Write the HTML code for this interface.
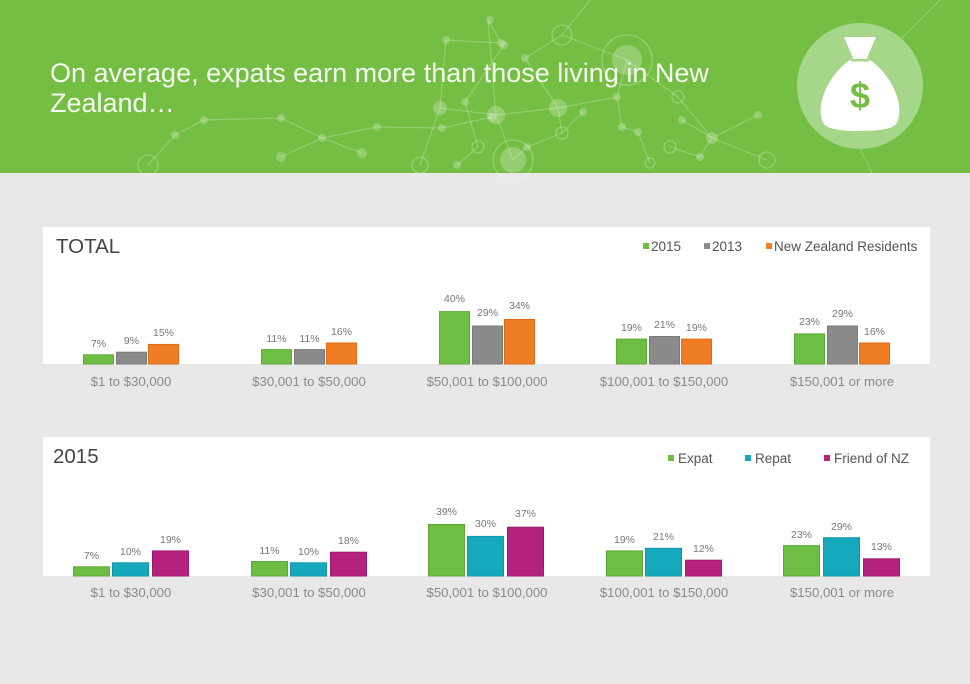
<!DOCTYPE html>
<html><head><meta charset="utf-8"><style>
html,body{margin:0;padding:0;background:#e8e8e8;}
svg{display:block;font-family:"Liberation Sans",Arial,sans-serif;}
</style></head><body>
<svg width="970" height="684" viewBox="0 0 970 684" xmlns="http://www.w3.org/2000/svg">
<rect x="0" y="0" width="970" height="684" fill="#e8e8e8"/>
<!-- header -->
<rect x="0" y="0" width="970" height="173" fill="#74be43"/>
<g stroke="#ffffff" stroke-opacity="0.24" stroke-width="1.2" fill="none">
<polyline points="590,0 562,35 627,60 678,97 712,138 767,160"/>
<polyline points="488,20 496,115 513,160 527,147 562,133 583,112"/>
<polyline points="446,40 440,108 420,165"/>
<polyline points="504,45 465,102 478,147 457,165"/>
<polyline points="525,58 562,35"/>
<polyline points="440,108 496,115 558,108 617,97 627,60"/>
<polyline points="617,97 622,127 638,132 650,163"/>
<polyline points="682,120 712,138 758,115"/>
<polyline points="670,147 700,157 712,138"/>
<polyline points="175,135 204,120 281,118 322,138 362,153"/>
<polyline points="148,165 175,135"/>
<polyline points="281,157 322,138 377,127 442,128 492,117"/>
<polyline points="445,40 501,43 488,20"/>
<polyline points="562,133 558,108 525,58"/>
<polyline points="940,0 900,40"/>
<polyline points="860,148 872,173"/>
</g>
<g fill="#ffffff" fill-opacity="0.24">
<circle cx="490" cy="20" r="4"/><circle cx="446" cy="40" r="4"/><circle cx="504" cy="45" r="4"/>
<circle cx="627" cy="60" r="15"/><circle cx="525" cy="58" r="4"/><circle cx="440" cy="108" r="7"/>
<circle cx="465" cy="102" r="4"/><circle cx="496" cy="115" r="9"/><circle cx="558" cy="108" r="9"/>
<circle cx="583" cy="112" r="4"/><circle cx="617" cy="97" r="4"/><circle cx="682" cy="120" r="4"/>
<circle cx="758" cy="115" r="4"/><circle cx="712" cy="138" r="6"/><circle cx="700" cy="157" r="4"/>
<circle cx="622" cy="127" r="4"/><circle cx="638" cy="132" r="4"/><circle cx="527" cy="147" r="4"/>
<circle cx="513" cy="160" r="13"/><circle cx="457" cy="165" r="4"/><circle cx="175" cy="135" r="4"/>
<circle cx="204" cy="120" r="4"/><circle cx="281" cy="118" r="4"/><circle cx="322" cy="138" r="4"/>
<circle cx="362" cy="153" r="5"/><circle cx="281" cy="157" r="5"/><circle cx="377" cy="127" r="4"/>
<circle cx="442" cy="128" r="4"/><circle cx="492" cy="117" r="4"/><circle cx="501" cy="43" r="4"/>
</g>
<g fill="none" stroke="#ffffff" stroke-opacity="0.26" stroke-width="1.3">
<circle cx="562" cy="35" r="10"/><circle cx="627" cy="60" r="25"/><circle cx="678" cy="97" r="6"/>
<circle cx="670" cy="147" r="6"/><circle cx="562" cy="133" r="6"/><circle cx="478" cy="147" r="6"/>
<circle cx="513" cy="160" r="20"/><circle cx="420" cy="165" r="8"/><circle cx="767" cy="160" r="8"/>
<circle cx="650" cy="163" r="5"/><circle cx="148" cy="165" r="10"/>
</g>
<text x="50" y="82" font-size="27" fill="#f6fbf2">On average, expats earn more than those living in New</text>
<text x="50" y="112" font-size="27" fill="#f6fbf2">Zealand…</text>
<!-- money bag -->
<circle cx="860" cy="86" r="63" fill="#a6d689"/>
<path d="M844 37 L876 37 L867 58 C893 74 906 108 896 124 Q891 131 860 131 Q829 131 824 124 C814 108 827 74 853 58 Z" fill="#ffffff"/>
<rect x="851" y="59" width="18" height="2.5" fill="#a6d689"/>
<text x="860" y="108" font-size="36" font-weight="bold" fill="#74be43" text-anchor="middle">$</text>

<!-- panel 1 -->
<rect x="43" y="227" width="887" height="137" fill="#ffffff"/>
<text x="56" y="253" font-size="20.5" fill="#444">TOTAL</text>
<g font-size="13.5" fill="#555">
<rect x="643" y="243" width="6" height="6" fill="#6fbe44"/><text x="651" y="251">2015</text>
<rect x="704" y="243" width="6" height="6" fill="#8a8a8a"/><text x="712" y="251">2013</text>
<rect x="766" y="243" width="6" height="6" fill="#f07c23"/><text x="774" y="251">New Zealand Residents</text>
</g>
<g stroke-width="1">
<g fill="#6fbe44" stroke="#5ea838">
<rect x="83.5" y="354.8" width="30" height="9.2"/>
<rect x="261.5" y="349.6" width="30" height="14.4"/>
<rect x="439.5" y="311.6" width="30" height="52.4"/>
<rect x="616.5" y="339.1" width="30" height="24.9"/>
<rect x="794.5" y="333.9" width="30" height="30.1"/>
</g>
<g fill="#8a8a8a" stroke="#7a7a7a">
<rect x="116.5" y="352.2" width="30" height="11.8"/>
<rect x="294.5" y="349.6" width="30" height="14.4"/>
<rect x="472.5" y="326" width="30" height="38"/>
<rect x="649.5" y="336.5" width="30" height="27.5"/>
<rect x="827.5" y="326" width="30" height="38"/>
</g>
<g fill="#f07c23" stroke="#dc6c18">
<rect x="148.5" y="344.4" width="30" height="19.6"/>
<rect x="326.5" y="343" width="30" height="21"/>
<rect x="504.5" y="319.5" width="30" height="44.5"/>
<rect x="681.5" y="339.1" width="30" height="24.9"/>
<rect x="859.5" y="343" width="30" height="21"/>
</g>
</g>
<g font-size="10.5" fill="#777" text-anchor="middle">
<text x="98.5" y="347">7%</text><text x="131.5" y="344">9%</text><text x="163.5" y="336">15%</text>
<text x="276.5" y="342">11%</text><text x="309.5" y="342">11%</text><text x="341.5" y="335">16%</text>
<text x="454.5" y="302">40%</text><text x="487.5" y="316">29%</text><text x="519.5" y="309">34%</text>
<text x="631.5" y="331">19%</text><text x="664.5" y="328">21%</text><text x="696.5" y="331">19%</text>
<text x="809.5" y="325">23%</text><text x="842.5" y="317">29%</text><text x="874.5" y="335">16%</text>
</g>
<g font-size="13.2" fill="#8a8a8a" text-anchor="middle">
<text x="131" y="386">$1 to $30,000</text>
<text x="309" y="386">$30,001 to $50,000</text>
<text x="487" y="386">$50,001 to $100,000</text>
<text x="664" y="386">$100,001 to $150,000</text>
<text x="842" y="386">$150,001 or more</text>
</g>

<!-- panel 2 -->
<rect x="43" y="437" width="887" height="139" fill="#ffffff"/>
<text x="53" y="463" font-size="20.5" fill="#444">2015</text>
<g font-size="13.5" fill="#555">
<rect x="668" y="455" width="6" height="6" fill="#6fbe44"/><text x="678" y="463">Expat</text>
<rect x="745" y="455" width="6" height="6" fill="#16a9bd"/><text x="755" y="463">Repat</text>
<rect x="824" y="455" width="6" height="6" fill="#b5217f"/><text x="834" y="463">Friend of NZ</text>
</g>
<g stroke-width="1">
<g fill="#6fbe44" stroke="#5ea838">
<rect x="73.5" y="566.8" width="36" height="9.2"/>
<rect x="251.5" y="561.5" width="36" height="14.5"/>
<rect x="428.5" y="524.5" width="36" height="51.5"/>
<rect x="606.5" y="550.9" width="36" height="25.1"/>
<rect x="783.5" y="545.6" width="36" height="30.4"/>
</g>
<g fill="#16a9bd" stroke="#1296a8">
<rect x="112.5" y="562.8" width="36" height="13.2"/>
<rect x="290.5" y="562.8" width="36" height="13.2"/>
<rect x="467.5" y="536.4" width="36" height="39.6"/>
<rect x="645.5" y="548.3" width="36" height="27.7"/>
<rect x="823.5" y="537.7" width="36" height="38.3"/>
</g>
<g fill="#b5217f" stroke="#9e1a6e">
<rect x="152.5" y="550.9" width="36" height="25.1"/>
<rect x="330.5" y="552.2" width="36" height="23.8"/>
<rect x="507.5" y="527.2" width="36" height="48.8"/>
<rect x="685.5" y="560.2" width="36" height="15.8"/>
<rect x="863.5" y="558.8" width="36" height="17.2"/>
</g>
</g>
<g font-size="10.5" fill="#777" text-anchor="middle">
<text x="91.5" y="559">7%</text><text x="130.5" y="555">10%</text><text x="170.5" y="543">19%</text>
<text x="269.5" y="554">11%</text><text x="308.5" y="555">10%</text><text x="348.5" y="544">18%</text>
<text x="446.5" y="515">39%</text><text x="485.5" y="527">30%</text><text x="525.5" y="517">37%</text>
<text x="624.5" y="543">19%</text><text x="663.5" y="540">21%</text><text x="703.5" y="552">12%</text>
<text x="801.5" y="538">23%</text><text x="841.5" y="530">29%</text><text x="881.5" y="550">13%</text>
</g>
<g font-size="13.2" fill="#8a8a8a" text-anchor="middle">
<text x="131" y="597">$1 to $30,000</text>
<text x="309" y="597">$30,001 to $50,000</text>
<text x="487" y="597">$50,001 to $100,000</text>
<text x="664" y="597">$100,001 to $150,000</text>
<text x="842" y="597">$150,001 or more</text>
</g>
</svg>
</body></html>
